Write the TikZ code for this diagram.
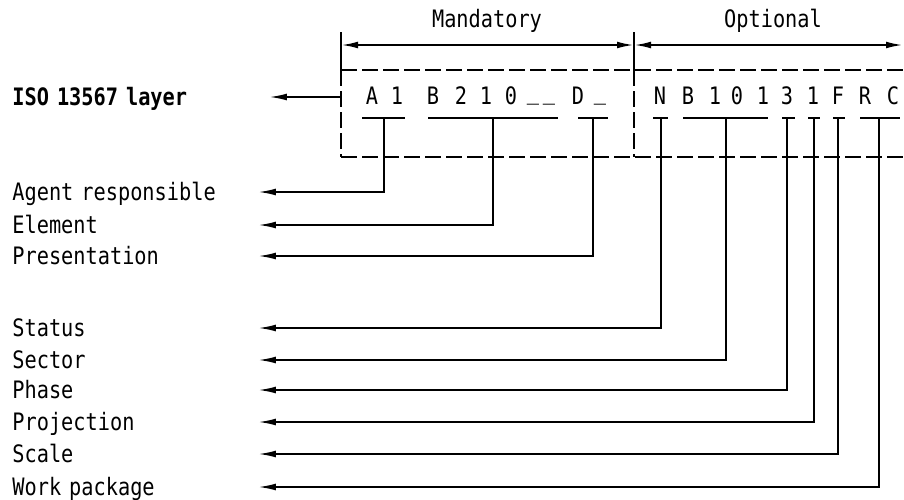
\documentclass[tikz,border=0pt]{standalone}
\usepackage{fontspec}
\newfontfamily\isofont{DejaVu Sans Mono}[FakeStretch=0.845]
\usetikzlibrary{arrows.meta}
\tikzset{
  iso/.style={font=\isofont\fontsize{12}{14}\selectfont,inner sep=0pt,text height=8.75pt,text depth=0pt},
  lbl/.style={iso,anchor=west,text width=#1,align=left},
  lead/.style={line width=1pt,-{Latex[length=9pt,width=3.4pt]}},
  dimline/.style={line width=1pt,{Latex[length=8.5pt,width=3.4pt]}-{Latex[length=8.5pt,width=3.4pt]}},
  frame/.style={line width=1pt,dash pattern=on 8pt off 2.5pt},
}
\newcommand\us{\raisebox{2.6pt}{\_}}
\begin{document}
\begin{tikzpicture}[x=0.5pt,y=-0.5pt]
\useasboundingbox (0,0) rectangle (904,499);
\draw[frame](341,70)--(904,70) (341,157)--(904,157) (341,70)--(341,157) (634,70)--(634,157);
\draw[line width=1pt](341,32)--(341,70) (634,32)--(634,70);
\coordinate (mand-l) at (341,45);
\coordinate (mand-r) at (634,45);
\coordinate (opt-r) at (903,45);
\draw[dimline](mand-l)--(mand-r);
\draw[dimline](mand-r)--(opt-r);
\node[iso] (mand) at (487,19) {Mandatory};
\node[iso] (opt) at (773,19) {Optional};
\foreach \ch/\x in {A/372,1/397,B/433,2/461,1/486,0/511,\us/533,\us/549,D/578,\us/600,N/660,B/688,1/715,0/737,1/763,3/787,1/813,F/838,R/865,C/893}
  \node[iso] (c\x) at (\x,96) {\ch};
\node[lbl=128pt] (layer) at (12,97) {\bfseries ISO 13567 layer};
\coordinate (box-w) at (341,97);
\draw[lead](box-w)--(layer);
\foreach \n/\t/\y/\x/\a/\b in {agent/Agent responsible/192/384/362/405,element/Element/225/493/428/558,presentation/Presentation/256/593/578/608,status/Status/328/661/653/668,sector/Sector/360/726/683/768,phase/Phase/390/787/782/795,projection/Projection/422/814/808/820,scale/Scale/454/838/833/845,work/Work package/487/879/860/900}{
  \node[lbl=122.5pt] (\n) at (12,\y) {\t};
  \draw[line width=1pt](\a,118)--(\b,118);
  \coordinate (\n-u) at (\x,118);
  \draw[lead](\n-u)|-(\n);
}
\end{tikzpicture}
\end{document}
